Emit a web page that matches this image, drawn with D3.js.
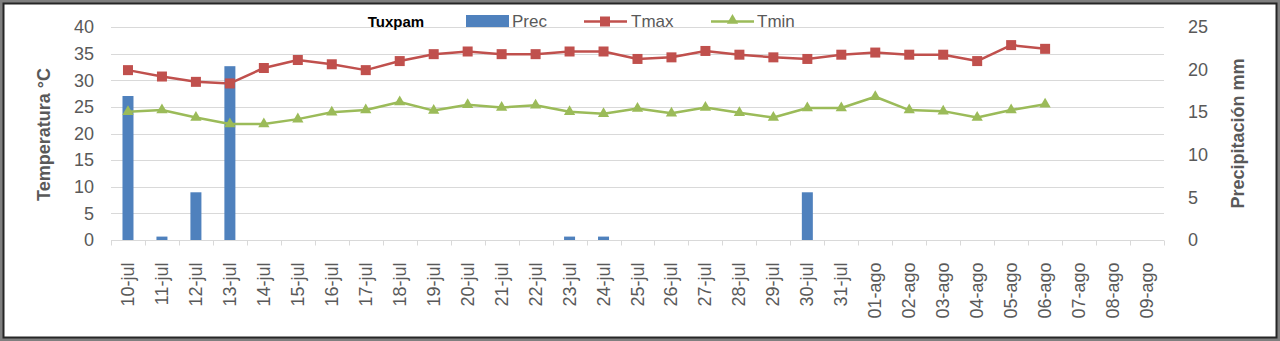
<!DOCTYPE html>
<html>
<head>
<meta charset="utf-8">
<script src="https://cdn.jsdelivr.net/npm/d3@7"></script>
<style>
  html, body { margin: 0; padding: 0; background: #fff; }
  svg { display: block; }
  text { font-family: "Liberation Sans", Arial, sans-serif; }
</style>
</head>
<body>
<svg id="chart" width="1280" height="341"></svg>
<script>
// Daily weather record for Tuxpam, 10 July – 9 August
const days = ["10-jul","11-jul","12-jul","13-jul","14-jul","15-jul","16-jul","17-jul","18-jul","19-jul",
              "20-jul","21-jul","22-jul","23-jul","24-jul","25-jul","26-jul","27-jul","28-jul","29-jul",
              "30-jul","31-jul","01-ago","02-ago","03-ago","04-ago","05-ago","06-ago","07-ago","08-ago","09-ago"];

// Precipitation (mm)
const prec = [16.9, 0.4, 5.6, 20.4, 0, 0, 0, 0, 0, 0,
              0, 0, 0, 0.4, 0.4, 0, 0, 0, 0, 0,
              5.6, 0, 0, 0, 0, 0, 0, 0, 0, 0, 0];

// Maximum temperature (°C)
const tmax = [31.9, 30.7, 29.7, 29.4, 32.3, 33.8, 33.0, 31.9, 33.6, 34.9,
              35.4, 34.9, 34.9, 35.4, 35.4, 34.0, 34.3, 35.5, 34.8, 34.3,
              34.0, 34.8, 35.2, 34.8, 34.8, 33.6, 36.6, 35.9, null, null, null];

// Minimum temperature (°C)
const tmin = [24.1, 24.4, 23.0, 21.8, 21.8, 22.7, 24.0, 24.4, 25.9, 24.3,
              25.4, 24.9, 25.3, 24.1, 23.7, 24.7, 23.8, 24.9, 23.9, 23.0,
              24.8, 24.8, 26.9, 24.4, 24.2, 23.0, 24.4, 25.5, null, null, null];

const tempTicks = [0, 5, 10, 15, 20, 25, 30, 35, 40];
const precTicks = [0, 5, 10, 15, 20, 25];

const svg = d3.select("#chart");
const W = 1280, H = 341;

const plot = { left: 111, right: 1164, top: 27, bottom: 240 };

const x = d3.scaleBand().domain(days).range([plot.left, plot.right]).padding(0);
const yT = d3.scaleLinear().domain([0, 40]).range([plot.bottom, plot.top]);
const yP = d3.scaleLinear().domain([0, 25]).range([plot.bottom, plot.top]);

const colPrec = "#4F81BD", colMax = "#C0504D", colMin = "#9BBB59";
const labelCol = "#595959";

// frame
svg.append("rect").attr("x", 0).attr("y", 0).attr("width", W).attr("height", H).attr("fill", "#fff");
svg.append("rect").attr("x", 1.5).attr("y", 1.5).attr("width", W - 3).attr("height", H - 3)
  .attr("fill", "none").attr("stroke", "#7f7f7f").attr("stroke-width", 3);
svg.append("rect").attr("x", 3.5).attr("y", 3.5).attr("width", W - 7).attr("height", H - 7)
  .attr("fill", "none").attr("stroke", "#262626").attr("stroke-width", 2);

// gridlines
svg.append("g").selectAll("line").data(tempTicks.filter(d => d > 0)).join("line")
  .attr("x1", plot.left).attr("x2", plot.right)
  .attr("y1", d => Math.round(yT(d)) + 0.5).attr("y2", d => Math.round(yT(d)) + 0.5)
  .attr("stroke", "#d9d9d9").attr("stroke-width", 1);

// left axis
const gL = svg.append("g").attr("transform", `translate(${plot.left - 17},0)`)
  .call(d3.axisLeft(yT).tickValues(tempTicks).tickSize(0).tickPadding(0));
gL.select(".domain").remove();
gL.selectAll("text").attr("fill", labelCol).style("font-size", "18px")
  .style("font-family", "'Liberation Sans', Arial, sans-serif");

// right axis
const gR = svg.append("g").attr("transform", `translate(${plot.right + 24},0)`)
  .call(d3.axisRight(yP).tickValues(precTicks).tickSize(0).tickPadding(0));
gR.select(".domain").remove();
gR.selectAll("text").attr("fill", labelCol).style("font-size", "18px")
  .style("font-family", "'Liberation Sans', Arial, sans-serif");

// precipitation bars
const barW = 11;
svg.append("g").selectAll("rect").data(days.map((d, i) => ({ d, v: prec[i] })).filter(e => e.v > 0)).join("rect")
  .attr("x", e => x(e.d) + x.bandwidth() / 2 - barW / 2)
  .attr("y", e => yP(e.v))
  .attr("width", barW)
  .attr("height", e => yP(0) - yP(e.v))
  .attr("fill", colPrec);

// category axis
const gX = svg.append("g").attr("transform", `translate(0,${plot.bottom + 0.5})`);
gX.append("line").attr("x1", plot.left).attr("x2", plot.right).attr("stroke", "#d9d9d9");
gX.selectAll("line.tick").data(d3.range(days.length + 1)).join("line").attr("class", "tick")
  .attr("x1", i => Math.round(plot.left + i * x.step()) + 0.5)
  .attr("x2", i => Math.round(plot.left + i * x.step()) + 0.5)
  .attr("y1", 0).attr("y2", 5).attr("stroke", "#d9d9d9");
gX.selectAll("text").data(days).join("text")
  .attr("transform", d => `translate(${x(d) + x.bandwidth() / 2 + 6},${22}) rotate(-90)`)
  .attr("text-anchor", "end")
  .attr("fill", labelCol).style("font-size", "18px")
  .text(d => d);

// temperature lines
function series(values, color) {
  const pts = days.map((d, i) => ({ d, v: values[i] })).filter(e => e.v != null);
  svg.append("path").datum(pts)
    .attr("fill", "none").attr("stroke", color).attr("stroke-width", 2.5)
    .attr("stroke-linejoin", "round")
    .attr("d", d3.line().x(e => x(e.d) + x.bandwidth() / 2).y(e => yT(e.v)));
  return pts;
}
const maxPts = series(tmax, colMax);
const minPts = series(tmin, colMin);

svg.append("g").selectAll("rect").data(maxPts).join("rect")
  .attr("x", e => x(e.d) + x.bandwidth() / 2 - 5).attr("y", e => yT(e.v) - 5)
  .attr("width", 10).attr("height", 10).attr("fill", colMax);

const tri = d3.symbol().type(d3.symbolTriangle).size(55);
svg.append("g").selectAll("path").data(minPts).join("path")
  .attr("transform", e => `translate(${x(e.d) + x.bandwidth() / 2},${yT(e.v)})`)
  .attr("d", tri).attr("fill", colMin);

// axis titles
svg.append("text").attr("transform", `translate(50,${(plot.top + plot.bottom) / 2 + 1}) rotate(-90)`)
  .attr("text-anchor", "middle").attr("fill", "#595959")
  .style("font-size", "18px").style("font-weight", "bold").text("Temperatura °C");
svg.append("text").attr("transform", `translate(1244,${(plot.top + plot.bottom) / 2}) rotate(-90)`)
  .attr("text-anchor", "middle").attr("fill", "#595959")
  .style("font-size", "18px").style("font-weight", "bold").text("Precipitación mm");

// chart title
svg.append("text").attr("x", 396).attr("y", 27).attr("text-anchor", "middle")
  .attr("fill", "#000").style("font-size", "15px").style("font-weight", "bold").text("Tuxpam");

// legend
const lg = svg.append("g");
lg.append("rect").attr("x", 466).attr("y", 15).attr("width", 43).attr("height", 12).attr("fill", colPrec);
lg.append("text").attr("x", 512).attr("y", 27).attr("fill", labelCol).style("font-size", "17px").text("Prec");

lg.append("line").attr("x1", 584).attr("x2", 627).attr("y1", 21.5).attr("y2", 21.5)
  .attr("stroke", colMax).attr("stroke-width", 2.5);
lg.append("rect").attr("x", 600).attr("y", 16.5).attr("width", 10).attr("height", 10).attr("fill", colMax);
lg.append("text").attr("x", 631).attr("y", 27).attr("fill", labelCol).style("font-size", "17px").text("Tmax");

lg.append("line").attr("x1", 711).attr("x2", 754).attr("y1", 21.5).attr("y2", 21.5)
  .attr("stroke", colMin).attr("stroke-width", 2.5);
lg.append("path").attr("transform", "translate(732.5,20.5)").attr("d", tri).attr("fill", colMin);
lg.append("text").attr("x", 757).attr("y", 27).attr("fill", labelCol).style("font-size", "17px").text("Tmin");
</script>
</body>
</html>
